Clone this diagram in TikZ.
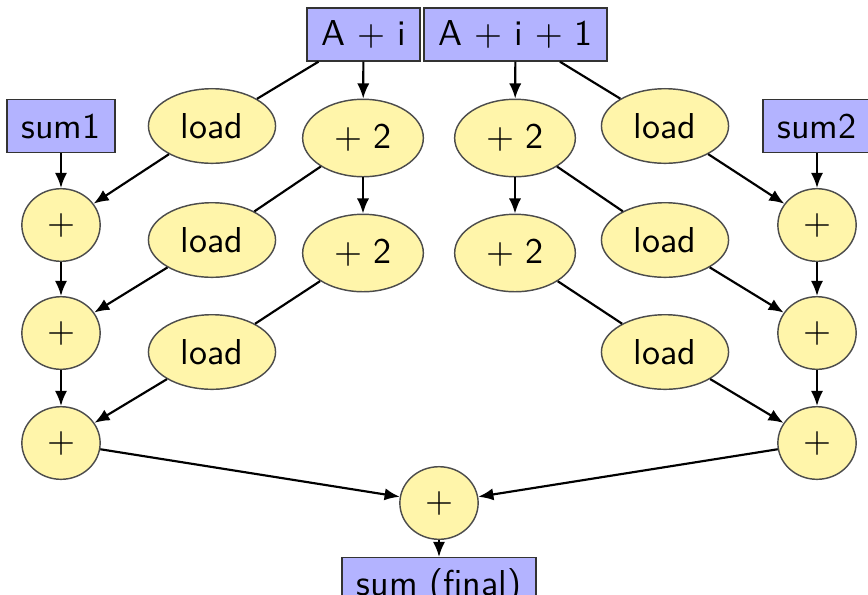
\documentclass[tikz,border=0pt]{standalone}
\usepackage{tikz}
\usetikzlibrary{arrows.meta, shapes.geometric, positioning}
\definecolor{boxblue}{RGB}{179,179,255}
\definecolor{opyellow}{RGB}{255,245,170}

\begin{document}
\begin{tikzpicture}[x=0.2778pt, y=-0.2778pt, font=\sffamily,
		box/.style={rectangle, draw=black!80, fill=boxblue, line width=0.4pt,
			inner xsep=4pt, inner ysep=3pt, minimum height=14.7pt},
		op/.style={ellipse, draw=black!70, fill=opyellow, line width=0.4pt, inner sep=3.8pt},
		arr/.style={-{Latex[length=4.2pt,width=3.4pt]}, line width=0.6pt},
		ln/.style={line width=0.6pt}]
	\useasboundingbox (0,0) rectangle (868,594);
	
	% address boxes
	\node[box] (ai) at (363.5,34.5) {A $+$ i};
	\node[box, right=0.6pt of ai] (aj) {A $+$ i $+$ 1};
	\node[box] (sa) at (61,126) {sum1};
	\node[box] (sb) at (817,126) {sum2};
	
	% left chain
	\node[op] (ta1) at (363,138) {$+$ 2};
	\node[op] (ta2) at (363,253) {$+$ 2};
	\node[op] (la1) at (212,126) {load};
	\node[op] (la2) at (212,240) {load};
	\node[op] (la3) at (212,352) {load};
	\node[op] (pa1) at (61,225) {$+$};
	\node[op] (pa2) at (61,333) {$+$};
	\node[op] (pa3) at (61,443) {$+$};
	
	% right chain
	\node[op] (tb1) at (515,138) {$+$ 2};
	\node[op] (tb2) at (515,253) {$+$ 2};
	\node[op] (lb1) at (665,126) {load};
	\node[op] (lb2) at (665,240) {load};
	\node[op] (lb3) at (665,352) {load};
	\node[op] (pb1) at (817,225) {$+$};
	\node[op] (pb2) at (817,333) {$+$};
	\node[op] (pb3) at (817,443) {$+$};
	
	% final sum
	\node[op] (pf) at (439,503) {$+$};
	\node[box, below=4.7pt of pf] (sf) {sum (final)};
	
	\draw[arr] (ai) -- (ta1);
	\draw[arr] (ta1) -- (ta2);
	\draw[ln] (ai) -- (la1);
	\draw[ln] (ta1) -- (la2);
	\draw[ln] (ta2) -- (la3);
	\draw[arr] (la1) -- (pa1);
	\draw[arr] (la2) -- (pa2);
	\draw[arr] (la3) -- (pa3);
	\draw[arr] (sa) -- (pa1);
	\draw[arr] (pa1) -- (pa2);
	\draw[arr] (pa2) -- (pa3);
	
	\draw[arr] (aj) -- (tb1);
	\draw[arr] (tb1) -- (tb2);
	\draw[ln] (aj) -- (lb1);
	\draw[ln] (tb1) -- (lb2);
	\draw[ln] (tb2) -- (lb3);
	\draw[arr] (lb1) -- (pb1);
	\draw[arr] (lb2) -- (pb2);
	\draw[arr] (lb3) -- (pb3);
	\draw[arr] (sb) -- (pb1);
	\draw[arr] (pb1) -- (pb2);
	\draw[arr] (pb2) -- (pb3);
	
	\draw[arr] (pa3) -- (pf);
	\draw[arr] (pb3) -- (pf);
	\draw[arr] (pf) -- (sf);
\end{tikzpicture}
\end{document}
